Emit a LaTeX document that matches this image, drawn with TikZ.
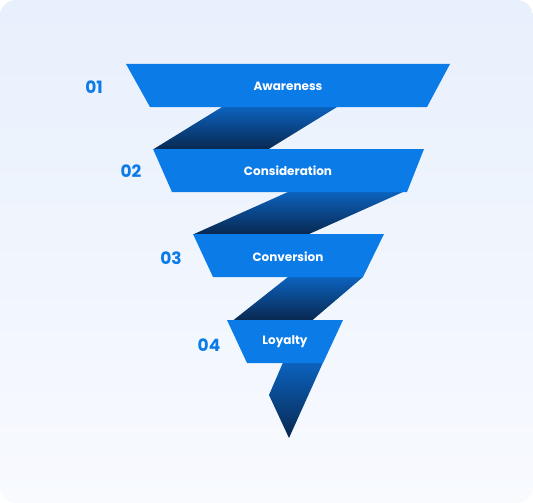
\documentclass[tikz,border=0pt]{standalone}
\usepackage{fontspec}
\setmainfont{Poppins}
\begin{document}
\begin{tikzpicture}[x=1pt,y=-1pt,
  band/.style={fill=fb,draw=none},
  conn/.style={top color=ct,bottom color=cb,draw=none},
  lab/.style={text=white,font=\fontsize{12}{14}\selectfont\bfseries},
  num/.style={text=fb,font=\fontsize{17}{20}\selectfont\bfseries}]
\definecolor{fb}{HTML}{0B7BE8}
\definecolor{ct}{HTML}{0C62BE}
\definecolor{cb}{HTML}{082850}
\useasboundingbox (0,0) rectangle (533,503);
\shade[top color={rgb,255:red,232;green,240;blue,253},bottom color={rgb,255:red,248;green,250;blue,254},rounded corners=16pt] (0,0) rectangle (533,503);
% connectors
\path[conn] (222,107) -- (337,107) -- (268,149.5) -- (153,149.5) -- cycle;
\path[conn] (288,192) -- (403,192) -- (308,234.5) -- (193,234.5) -- cycle;
\path[conn] (288,277) -- (363,277) -- (312,320.5) -- (233,320.5) -- cycle;
\path[conn] (283,362.5) -- (323,362.5) -- (289,438) -- (269,395) -- cycle;
% bands
\path[band] (126,64) -- (450,64) -- (427,107) -- (150,107) -- cycle;
\path[band] (153,149) -- (424,149) -- (407,192) -- (172,192) -- cycle;
\path[band] (193,234) -- (384,234) -- (363,277) -- (213,277) -- cycle;
\path[band] (227,320) -- (343,320) -- (323,363) -- (247,363) -- cycle;
\node[lab] (t1) at (288,86) {Awareness};
\node[lab] (t2) at (288,171) {Consideration};
\node[lab] (t3) at (288,257) {Conversion};
\node[lab] (t4) at (285,342) {Loyalty};
\node[num] (n1) at (94,87) {01};
\node[num] (n2) at (131,171) {02};
\node[num] (n3) at (171,258) {03};
\node[num] (n4) at (209,345) {04};
\end{tikzpicture}
\end{document}
